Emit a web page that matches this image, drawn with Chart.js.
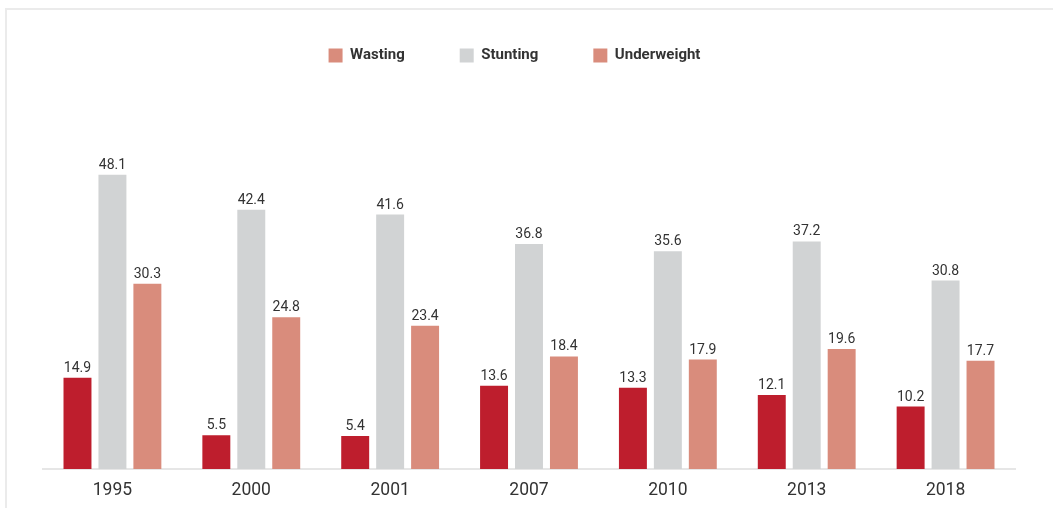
<!DOCTYPE html>
<html>
<head>
<meta charset="utf-8">
<script src="https://cdn.jsdelivr.net/npm/chart.js@4/dist/chart.umd.min.js"></script>
<style>
    body { margin: 0; background: #fff; }
    .frame {
        position: absolute; left: 5px; top: 8px; width: 1200px; height: 700px;
        border-left: 2px solid #ebebeb; border-top: 2px solid #ebebeb;
    }
    .wrap { position: absolute; left: 0; top: 0; width: 1053px; height: 508px; }
</style>
</head>
<body>
<div class="frame"></div>
<div class="wrap"><canvas id="malnutrition-chart"></canvas></div>
<script>
// Données du graphique
const years = ['1995', '2000', '2001', '2007', '2010', '2013', '2018'];
const wasting = [14.9, 5.5, 5.4, 13.6, 13.3, 12.1, 10.2];
const stunting = [48.1, 42.4, 41.6, 36.8, 35.6, 37.2, 30.8];
const underweight = [30.3, 24.8, 23.4, 18.4, 17.9, 19.6, 17.7];

const RED = '#be1e2d';
const GREY = '#d1d3d4';
const SALMON = '#d98c7c';
const TEXT = '#333333';

// Valeurs au-dessus des barres
const valueLabels = {
    id: 'valueLabels',
    afterDatasetsDraw(chart) {
        const ctx = chart.ctx;
        ctx.save();
        ctx.font = '14px Roboto';
        ctx.fillStyle = TEXT;
        ctx.textAlign = 'center';
        ctx.textBaseline = 'alphabetic';
        chart.data.datasets.forEach((ds, i) => {
            chart.getDatasetMeta(i).data.forEach((bar, j) => {
                ctx.fillText(ds.data[j].toFixed(1), bar.x, bar.y - 6);
            });
        });
        ctx.restore();
    }
};

// Remonte la légende (le padding sert aussi d'espacement horizontal)
const legendShift = {
    id: 'legendShift',
    afterLayout(chart) {
        chart.legend.top -= 29;
        chart.legend.bottom -= 29;
    }
};

new Chart(document.getElementById('malnutrition-chart'), {
    type: 'bar',
    data: {
        labels: years,
        datasets: [
            { label: 'Wasting', data: wasting, backgroundColor: RED },
            { label: 'Stunting', data: stunting, backgroundColor: GREY },
            { label: 'Underweight', data: underweight, backgroundColor: SALMON }
        ]
    },
    options: {
        responsive: true,
        maintainAspectRatio: false,
        animation: false,
        datasets: { bar: { categoryPercentage: 0.755, barPercentage: 0.8 } },
        layout: { padding: { top: 22, left: 14, right: 38, bottom: 8 } },
        plugins: {
            tooltip: { enabled: false },
            legend: {
                position: 'top',
                labels: {
                    boxWidth: 14,
                    boxHeight: 14,
                    padding: 55,
                    color: TEXT,
                    font: { family: 'Roboto', size: 15, weight: 'bold' },
                    generateLabels: function(chart) {
                        // la case de "Wasting" est saumon dans l'original
                        const fills = [SALMON, GREY, SALMON];
                        return chart.data.datasets.map((ds, i) => ({
                            text: ds.label,
                            fillStyle: fills[i],
                            strokeStyle: fills[i],
                            lineWidth: 0,
                            fontColor: TEXT,
                            datasetIndex: i
                        }));
                    }
                }
            }
        },
        scales: {
            x: {
                grid: { display: false, drawTicks: false },
                border: { color: '#e6e6e6', width: 2 },
                ticks: { color: TEXT, padding: 11, font: { family: 'Roboto', size: 17.5 } },
                afterFit: function(scale) { scale.height = 31; }
            },
            y: {
                min: 0,
                max: 60,
                grid: { display: false, drawTicks: false },
                border: { display: false },
                ticks: { display: false },
                afterFit: function(scale) { scale.width = 29; }
            }
        }
    },
    plugins: [valueLabels, legendShift]
});
</script>
</body>
</html>
